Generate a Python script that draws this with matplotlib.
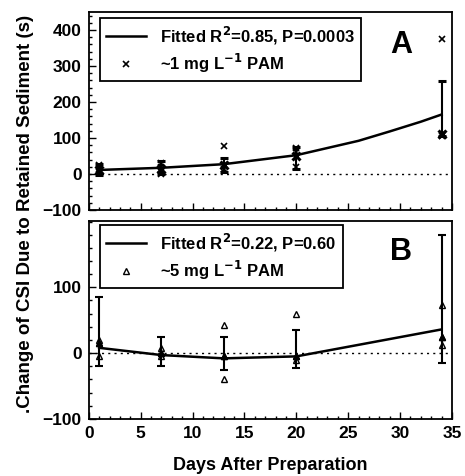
import matplotlib
matplotlib.use("Agg")
import matplotlib.pyplot as plt
from matplotlib.ticker import MultipleLocator

plt.rcParams['font.family'] = ['Liberation Sans', 'DejaVu Sans']
plt.rcParams['font.weight'] = 'bold'
plt.rcParams['mathtext.default'] = 'bf'

days = [1, 7, 13, 20, 34]

# Panel A: ~1 mg/L PAM, replicate values (x markers)
a_rep_x = [1, 1, 1, 7, 7, 7, 7, 13, 13, 13, 20, 20, 20, 34, 34, 34]
a_rep_y = [5, 15, 25, 0, 10, 20, 30, 78, 15, 25, 72, 60, 20, 375, 110, 105]
a_center = [12, 15, 25, 50, 110]
a_low = [-3, 0, 5, 15, 105]
a_high = [28, 35, 45, 75, 258]
a_fit_x = [1, 7, 13, 20, 23, 26, 29, 32, 34]
a_fit_y = [11, 17, 27, 52, 72, 92, 118, 145, 165]

# Panel B: ~5 mg/L PAM, replicate values (triangles)
b_rep_x = [1, 1, 1, 7, 7, 7, 13, 13, 13, 20, 20, 20, 34, 34, 34]
b_rep_y = [20, -5, 15, 8, -5, 0, 42, -40, -5, 59, -5, -10, 73, 25, 12]
b_center = [15, 0, -5, -5, 25]
b_low = [-20, -20, -25, -22, -15]
b_high = [86, 25, 25, 35, 180]
b_fit_x = [1, 7, 13, 20, 34]
b_fit_y = [8, -3, -8, -5, 36]

fig = plt.figure(figsize=(4.65, 4.76), dpi=100)
ax1 = fig.add_axes([0.191, 0.559, 0.781, 0.416])
ax2 = fig.add_axes([0.191, 0.120, 0.781, 0.416])


def style(ax):
    ax.tick_params(which='both', direction='in', top=False, right=False,
                   labelsize=12.5, width=1, pad=5)
    ax.tick_params(which='major', length=5)
    ax.tick_params(which='minor', length=2.5)
    ax.xaxis.set_major_locator(MultipleLocator(5))
    ax.xaxis.set_minor_locator(MultipleLocator(1))
    ax.yaxis.set_minor_locator(MultipleLocator(20))
    for s in ax.spines.values():
        s.set_linewidth(1.3)
    ax.set_xlim(0, 35)
    ax.axhline(0, color='black', linestyle=(0, (1.5, 3)), linewidth=1)


def make_legend(ax, y):
    leg = ax.legend(loc='upper left', bbox_to_anchor=(0.03, y), fontsize=12,
                    frameon=True, fancybox=False, handlelength=2.4,
                    borderpad=0.4, labelspacing=0.3, handletextpad=0.8,
                    borderaxespad=0)
    leg.get_frame().set_edgecolor('black')
    leg.get_frame().set_linewidth(1.3)
    leg.get_frame().set_alpha(1)


# --- Panel A ---
style(ax1)
ax1.plot(a_fit_x, a_fit_y, color='black', linewidth=1.8,
         label='Fitted R$^2$=0.85, P=0.0003')
ax1.plot(a_rep_x, a_rep_y, linestyle='none', marker='x', color='black',
         markersize=5, markeredgewidth=1.2, label='~1 mg L$^{-1}$ PAM')
a_err = [[c - l for c, l in zip(a_center, a_low)],
         [h - c for c, h in zip(a_center, a_high)]]
ax1.errorbar(days, a_center, yerr=a_err, fmt='x', color='black',
             markersize=6, markeredgewidth=2.2, capsize=3, elinewidth=1.5,
             capthick=1.5)
ax1.set_ylim(-100, 450)
ax1.set_yticks([-100, 0, 100, 200, 300, 400])
ax1.tick_params(labelbottom=False)
make_legend(ax1, 0.97)
ax1.text(0.86, 0.91, 'A', transform=ax1.transAxes, fontsize=22,
         fontweight='bold', ha='center', va='top')

# --- Panel B ---
style(ax2)
ax2.plot(b_fit_x, b_fit_y, color='black', linewidth=1.8,
         label='Fitted R$^2$=0.22, P=0.60')
ax2.plot(b_rep_x, b_rep_y, linestyle='none', marker='^', color='black',
         markerfacecolor='white', markersize=4.5, markeredgewidth=1,
         label='~5 mg L$^{-1}$ PAM')
b_err = [[c - l for c, l in zip(b_center, b_low)],
         [h - c for c, h in zip(b_center, b_high)]]
ax2.errorbar(days, b_center, yerr=b_err, fmt='^', color='black',
             markersize=5, capsize=3, elinewidth=1.5, capthick=1.5)
ax2.set_ylim(-100, 201)
ax2.set_yticks([-100, 0, 100])
make_legend(ax2, 0.98)
ax2.text(0.86, 0.92, 'B', transform=ax2.transAxes, fontsize=22,
         fontweight='bold', ha='center', va='top')
ax2.set_xlabel('Days After Preparation', fontsize=13, fontweight='bold',
               labelpad=12)

fig.text(0.055, 0.55, '.Change of CSI Due to Retained Sediment (s)',
         rotation=90, ha='center', va='center', fontsize=13.5,
         fontweight='bold')

fig.savefig('out.png', dpi=100)
